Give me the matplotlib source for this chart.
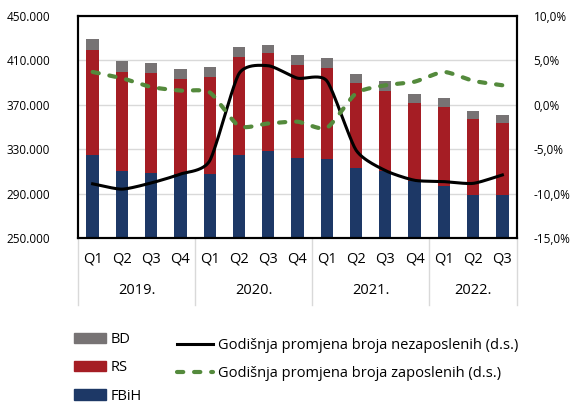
import numpy as np
import matplotlib.pyplot as plt
from matplotlib.patches import Patch
from matplotlib.lines import Line2D

plt.rcParams['font.family'] = ['Open Sans', 'DejaVu Sans']

quarters = ['Q1', 'Q2', 'Q3', 'Q4', 'Q1', 'Q2', 'Q3', 'Q4',
            'Q1', 'Q2', 'Q3', 'Q4', 'Q1', 'Q2', 'Q3']
years = ['2019.', '2020.', '2021.', '2022.']
year_sizes = [4, 4, 4, 3]

fbih = [324800, 310400, 308800, 307700, 307700, 324800, 328400, 322300,
        321200, 312800, 310400, 301600, 297100, 288700, 288700]
rs = [94600, 89400, 89800, 85800, 87300, 88500, 88500, 83800,
      82200, 77100, 72300, 70300, 71200, 68800, 65200]
bd = [9600, 9900, 8800, 9000, 8800, 8500, 7200, 8500,
      8500, 7800, 8700, 7600, 7600, 6600, 6600]

unemp_change = [-8.9, -9.5, -8.8, -7.8, -6.3, 3.5, 4.4, 3.0,
                2.7, -5.1, -7.4, -8.5, -8.65, -8.85, -7.9]
emp_change = [3.7, 3.0, 2.0, 1.6, 1.4, -2.4, -2.1, -1.9,
              -2.6, 1.3, 2.2, 2.6, 3.7, 2.7, 2.2]


def smooth(x, y, n=24, tension=0.35):
    # cardinal spline, close to excel "smoothed line"
    x = np.asarray(x, float)
    y = np.asarray(y, float)
    k = 1 - tension
    mx = np.gradient(x) * k
    my = np.empty_like(y)
    my[1:-1] = (y[2:] - y[:-2]) / 2 * k
    my[0] = (y[1] - y[0]) * k
    my[-1] = (y[-1] - y[-2]) * k
    t = np.linspace(0, 1, n, endpoint=False)
    h00 = 2 * t ** 3 - 3 * t ** 2 + 1
    h10 = t ** 3 - 2 * t ** 2 + t
    h01 = -2 * t ** 3 + 3 * t ** 2
    h11 = t ** 3 - t ** 2
    xs, ys = [], []
    for i in range(len(x) - 1):
        xs.extend(h00 * x[i] + h10 * mx[i] + h01 * x[i + 1] + h11 * mx[i + 1])
        ys.extend(h00 * y[i] + h10 * my[i] + h01 * y[i + 1] + h11 * my[i + 1])
    xs.append(x[-1])
    ys.append(y[-1])
    return np.array(xs), np.array(ys)


c_fbih = '#1d3866'
c_rs = '#a51d24'
c_bd = '#777374'
c_green = '#548a3c'

fig = plt.figure(figsize=(5.7, 4.03), dpi=100)
ax = fig.add_axes([78 / 570, 1 - 238 / 403, 439 / 570, 222 / 403])
x = np.arange(len(quarters))
fbih_a = np.array(fbih)
rs_a = np.array(rs)
bd_a = np.array(bd)

w = 0.42
ax.bar(x, fbih_a, w, color=c_fbih, zorder=2)
ax.bar(x, rs_a, w, bottom=fbih_a, color=c_rs, zorder=2)
ax.bar(x, bd_a, w, bottom=fbih_a + rs_a, color=c_bd, zorder=2)

ax.set_ylim(250000, 450000)
ax.set_yticks(np.arange(250000, 450001, 40000))
ax.set_yticklabels([f'{v:,.0f}'.replace(',', '.') for v in np.arange(250000, 450001, 40000)])
ax.set_xlim(-0.5, len(quarters) - 0.5)
ax.set_xticks(x)
ax.set_xticklabels(quarters, fontsize=10.5)
ax.yaxis.grid(True, color='#d9d9d9', linewidth=1, zorder=0)
ax.set_axisbelow(True)
ax.tick_params(axis='y', length=0, labelsize=8.5, pad=20)
ax.tick_params(axis='x', length=0, pad=10)
for s in ax.spines.values():
    s.set_linewidth(1.5)
    s.set_color('black')

ax2 = ax.twinx()
ax2.set_ylim(-15, 10)
ax2.set_yticks(np.arange(-15, 10.1, 5))
ax2.set_yticklabels([f'{v:.1f}%'.replace('.', ',') for v in np.arange(-15, 10.1, 5)])
ax2.tick_params(axis='y', length=0, labelsize=8.5, pad=12)
for s in ax2.spines.values():
    s.set_linewidth(1.5)

sx, sy = smooth(x, unemp_change)
ax2.plot(sx, sy, color='black', linewidth=2.2, zorder=3)
gx, gy = smooth(x, emp_change)
ax2.plot(gx, gy, color=c_green, linewidth=3, linestyle=(0, (1.5, 2.6)),
         dash_capstyle='round', zorder=3)

# year labels and group dividers below the axis
trans = ax.get_xaxis_transform()
start = -0.5
for yr, n in zip(years, year_sizes):
    ax.text(start + n / 2, -0.235, yr, transform=trans, ha='center', va='center', fontsize=10.5)
    start += n
bounds = np.cumsum([0] + year_sizes) - 0.5
for b in bounds:
    ax.add_line(Line2D([b, b], [0, -0.30], transform=trans, color='#d9d9d9',
                       linewidth=1, clip_on=False))

bar_handles = [Patch(color=c_bd, label='BD'), Patch(color=c_rs, label='RS'),
               Patch(color=c_fbih, label='FBiH')]
fig.legend(handles=bar_handles, loc='upper left', bbox_to_anchor=(0.12, 0.19),
           frameon=False, fontsize=10.5, handlelength=2.2, handleheight=0.7,
           handletextpad=0.3, labelspacing=0.9, borderaxespad=0)
line_handles = [Line2D([], [], color='black', linewidth=2.2,
                       label='Godišnja promjena broja nezaposlenih (d.s.)'),
                Line2D([], [], color=c_green, linewidth=3, linestyle=(0, (1.5, 2.6)),
                       dash_capstyle='round',
                       label='Godišnja promjena broja zaposlenih (d.s.)')]
fig.legend(handles=line_handles, loc='upper left', bbox_to_anchor=(0.30, 0.175),
           frameon=False, fontsize=10.5, handlelength=2.5,
           handletextpad=0.3, labelspacing=0.85, borderaxespad=0)

fig.savefig('out.png', dpi=100)
